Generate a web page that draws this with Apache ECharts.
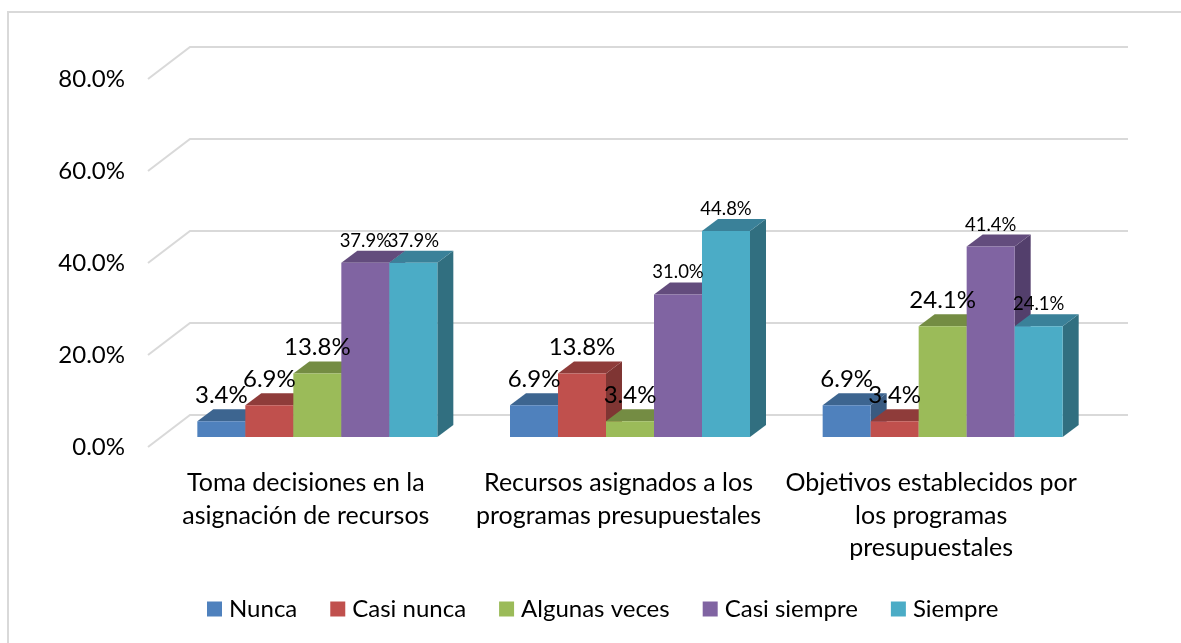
<!DOCTYPE html>
<html>
<head>
<meta charset="utf-8">
<style>html,body{margin:0;padding:0;background:#fff}#c{width:1181px;height:643px}</style>
<script src="https://cdn.jsdelivr.net/npm/echarts@6/dist/echarts.min.js"></script>
</head>
<body>
<div id="c"></div>
<script>
const categories = [
  'Toma decisiones en la\nasignación de recursos',
  'Recursos asignados a los\nprogramas presupuestales',
  'Objetivos establecidos por\nlos programas\npresupuestales'
];
const nunca = [3.4, 6.9, 6.9];
const casiNunca = [6.9, 13.8, 3.4];
const algunasVeces = [13.8, 3.4, 24.1];
const casiSiempre = [37.9, 31.0, 41.4];
const siempre = [37.9, 44.8, 24.1];
const seriesNames = ['Nunca', 'Casi nunca', 'Algunas veces', 'Casi siempre', 'Siempre'];
const yTicks = [0, 20, 40, 60, 80];

const FONT = 'Lato';
const seriesValues = [nunca, casiNunca, algunasVeces, casiSiempre, siempre];
const faces = [
  {front: '#4f81bd', top: '#3d6590', side: '#395a80'},
  {front: '#c0504d', top: '#8f3c3a', side: '#7f3533'},
  {front: '#9bbb59', top: '#748c43', side: '#677c3b'},
  {front: '#8064a2', top: '#634c7d', side: '#533f6c'},
  {front: '#4bacc6', top: '#3a8199', side: '#316f80'}
];
// which data labels are drawn in the small font: series index -> category indices
const smallLabels = {0: [], 1: [], 2: [], 3: [0, 1, 2], 4: [0, 1, 2]};

const barW = 48, depthX = 16, depthY = 12, shiftX = 13, shiftY = 10, wallX = 42, wallY = 32;

function barSeries(name, s) {
  const f = faces[s];
  return {
    name, type: 'custom', z: 3 + s,
    itemStyle: {color: f.front},
    data: seriesValues[s].map((v, c) => [c, v]),
    encode: {x: 0, y: 1},
    renderItem(params, api) {
      const c = api.value(0), v = api.value(1);
      const p0 = api.coord([c, 0]), p1 = api.coord([c, v]);
      const x0 = p0[0] + shiftX + (s - 2.5) * barW, x1 = x0 + barW;
      const yb = p0[1] - shiftY, yt = p1[1] - shiftY;
      const poly = (points, fill) => ({type: 'polygon', shape: {points}, style: {fill, stroke: null}});
      return {type: 'group', children: [
        poly([[x1, yb], [x1 + depthX, yb - depthY], [x1 + depthX, yt - depthY], [x1, yt]], f.side),
        poly([[x0, yt], [x0 + depthX, yt - depthY], [x1 + depthX, yt - depthY], [x1, yt]], f.top),
        poly([[x0, yb], [x1, yb], [x1, yt], [x0, yt]], f.front)
      ]};
    }
  };
}

const labelData = [];
seriesValues.forEach((vals, s) => vals.forEach((v, c) => labelData.push([c, v, s])));

const option = {
  animation: false,
  backgroundColor: '#fff',
  textStyle: {fontFamily: FONT},
  graphic: [{
    type: 'polyline', silent: true, z: -1,
    shape: {points: [[8, 643], [8, 12], [1181, 12]]},
    style: {fill: null, stroke: '#d9d9d9', lineWidth: 2}
  }],
  grid: {left: 148, top: 79, width: 938, height: 368, containLabel: false},
  xAxis: {
    type: 'category', data: categories,
    axisLine: {show: false}, axisTick: {show: false}, splitLine: {show: false},
    axisLabel: {color: '#000', fontFamily: FONT, fontSize: 25, lineHeight: 32.5, margin: 20, interval: 0, padding: [0, 0, 0, 3]}
  },
  yAxis: {
    type: 'value', min: 0, max: 80, interval: 20,
    axisLine: {show: false}, axisTick: {show: false}, splitLine: {show: false},
    axisLabel: {
      color: '#000', fontFamily: FONT, fontSize: 24, margin: 23,
      padding: [10, 0, 0, 0],
      formatter: v => v.toFixed(1) + '%'
    }
  },
  legend: {
    left: 207, top: 597, padding: 0,
    data: seriesNames,
    icon: 'rect', itemWidth: 15, itemHeight: 15, itemGap: 33,
    textStyle: {color: '#000', fontFamily: FONT, fontSize: 24, padding: [0, 0, 0, 2]}
  },
  series: [
    {
      name: 'wall', type: 'custom', z: 1, silent: true,
      data: yTicks.map(t => [0, t]),
      encode: {x: 0, y: 1},
      renderItem(params, api) {
        const y = api.coord([0, api.value(1)])[1];
        const cs = params.coordSys;
        return {type: 'polyline',
          shape: {points: [[cs.x, y], [cs.x + wallX, y - wallY], [cs.x + cs.width + wallX, y - wallY]]},
          style: {fill: null, stroke: '#d9d9d9', lineWidth: 2}};
      }
    },
    ...seriesNames.map(barSeries),
    {
      name: 'labels', type: 'custom', z: 20, silent: true,
      data: labelData,
      encode: {x: 0, y: 1},
      renderItem(params, api) {
        const c = api.value(0), v = api.value(1), s = api.value(2);
        const small = smallLabels[s].includes(c);
        const p = api.coord([c, v]);
        return {type: 'text', style: {
          x: p[0] + shiftX + (s - 2) * barW,
          y: p[1] - shiftY - (small ? 22 : 26),
          text: v.toFixed(1) + '%',
          fontFamily: FONT,
          fontSize: small ? 18.5 : 24,
          fill: '#000', align: 'center', verticalAlign: 'middle'
        }};
      }
    }
  ]
};
const chart = echarts.init(document.getElementById('c'));
chart.setOption(option);
</script>
</body>
</html>
